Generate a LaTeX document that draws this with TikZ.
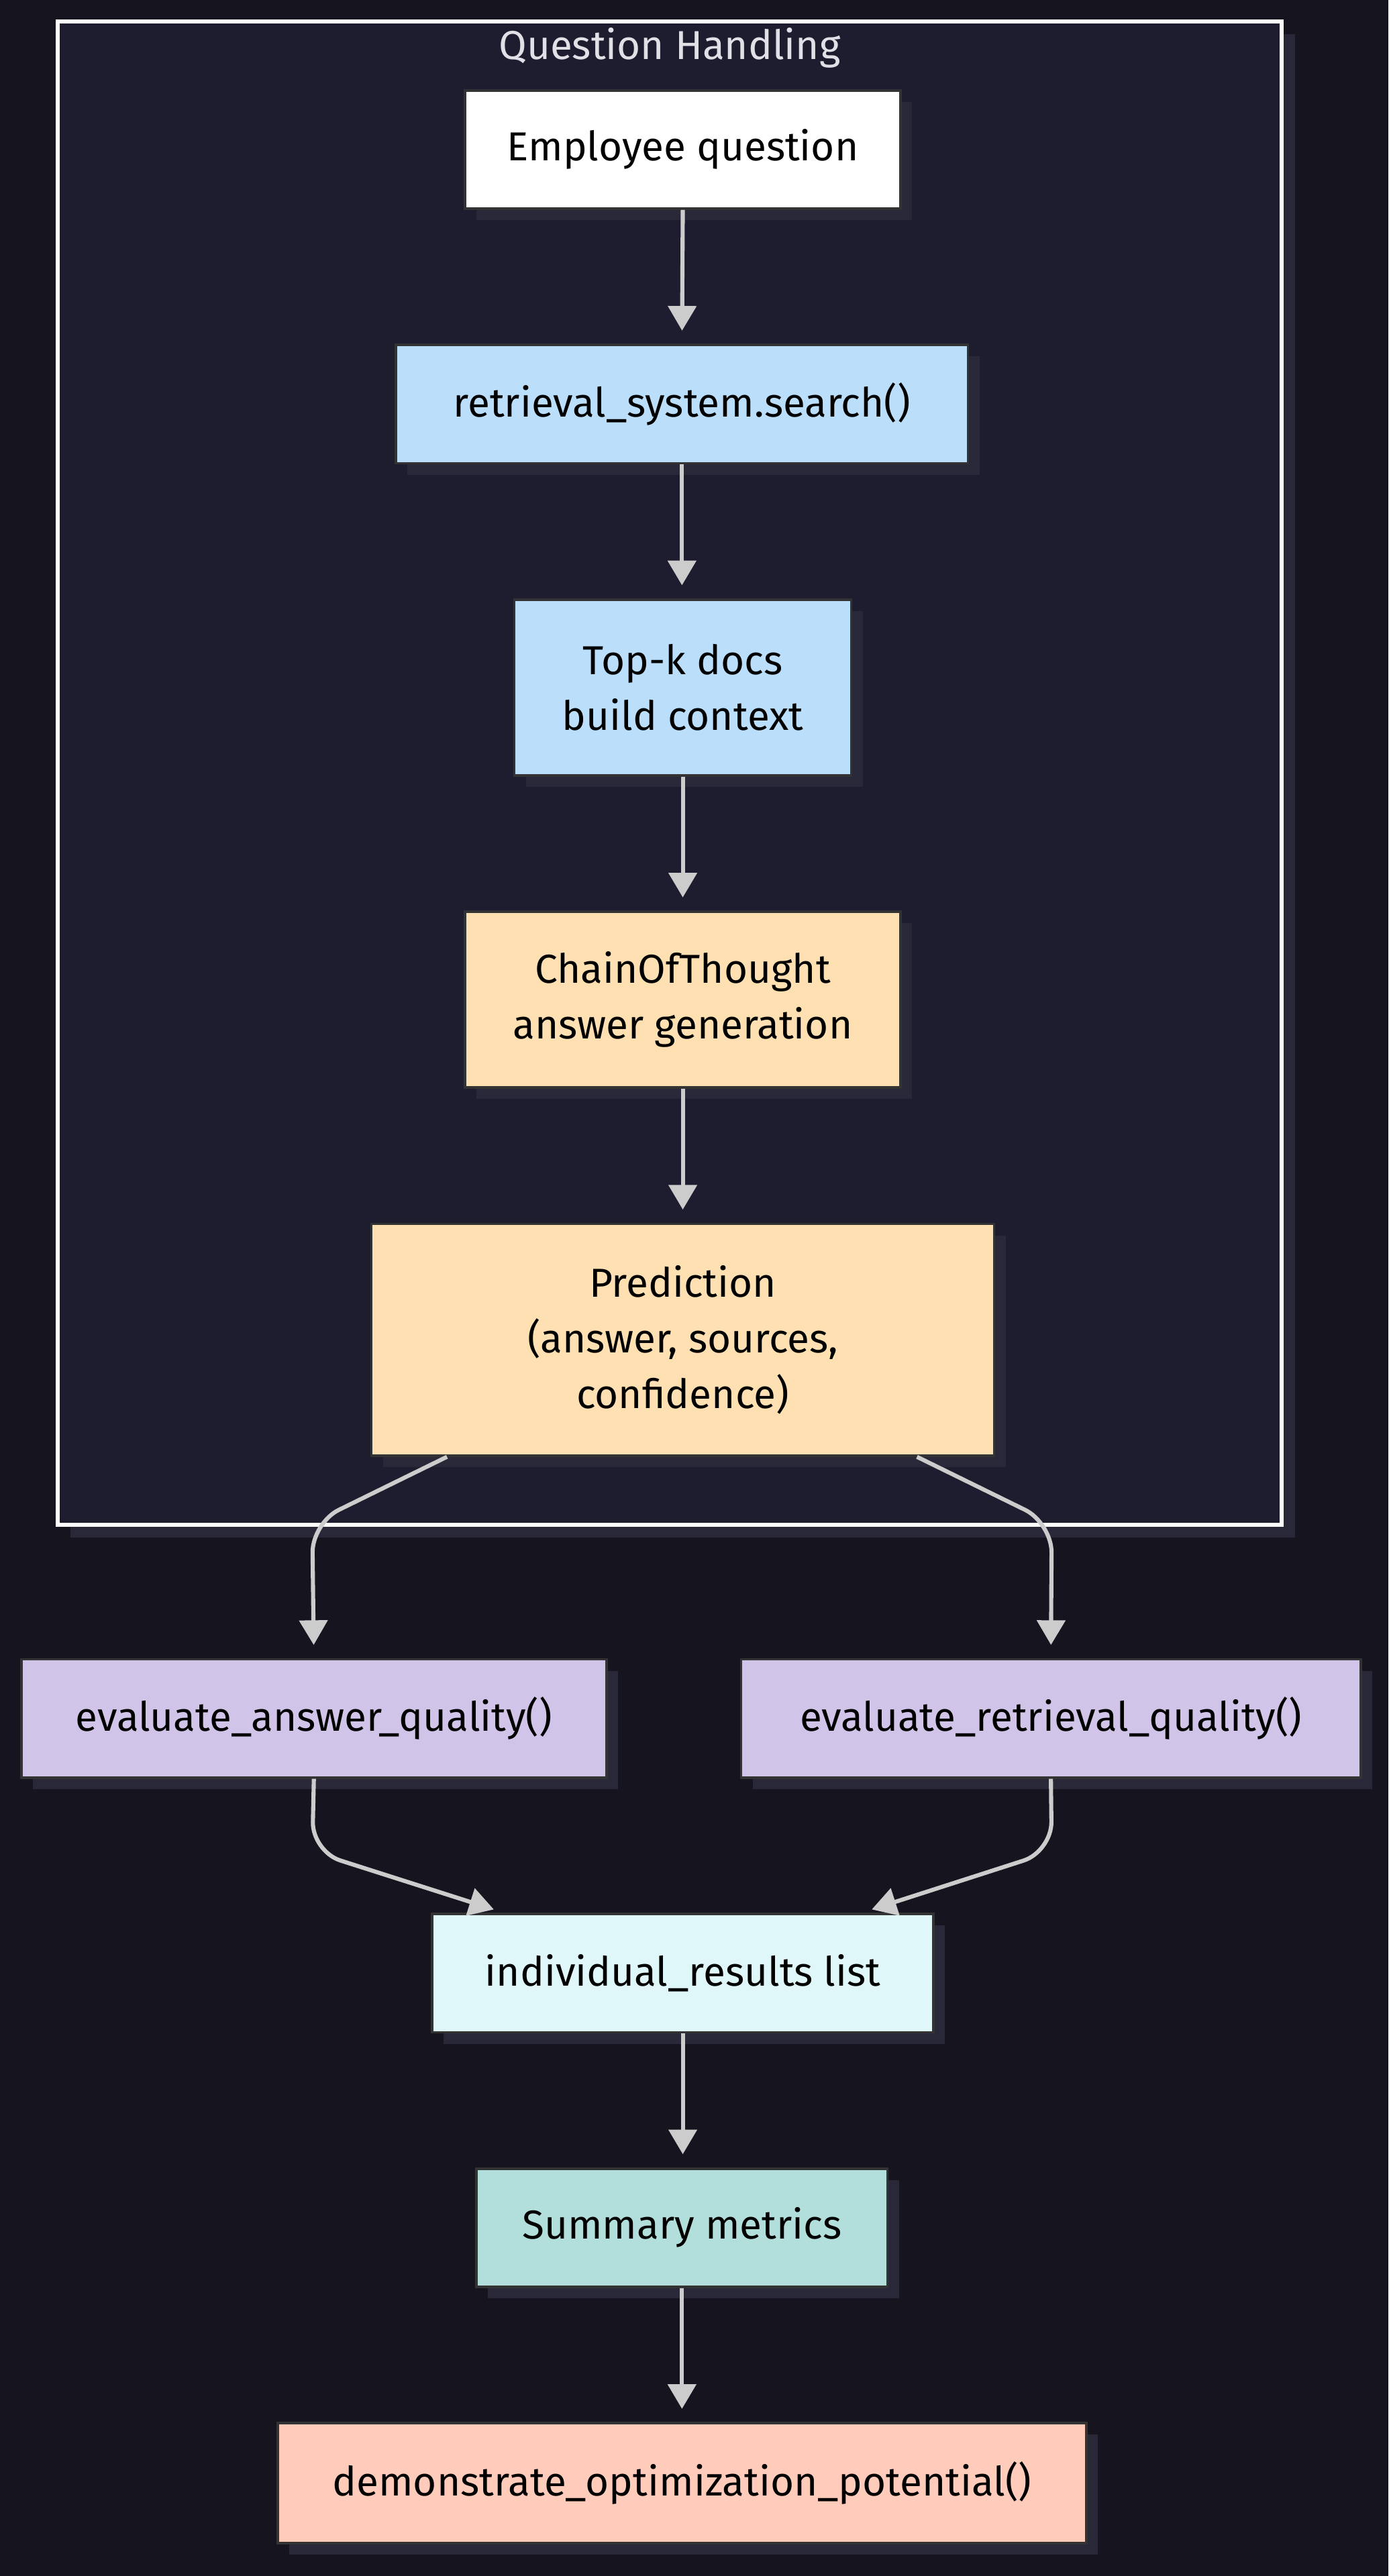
\documentclass[tikz,border=0pt]{standalone}
\usepackage{fontspec}
\setmainfont{Fira Sans}
\usetikzlibrary{arrows.meta,shadows,calc}
\definecolor{bgc}{HTML}{16151F}
\definecolor{clusterc}{HTML}{1E1D2F}
\definecolor{shadowc}{HTML}{292838}
\definecolor{edgec}{HTML}{CCCCCC}
\definecolor{borderc}{HTML}{333333}
\definecolor{titlec}{HTML}{E0E0E6}
\definecolor{bluec}{HTML}{BBDEFB}
\definecolor{orangec}{HTML}{FFE0B2}
\definecolor{purplec}{HTML}{D1C4E9}
\definecolor{cyanc}{HTML}{E0F7FA}
\definecolor{tealc}{HTML}{B2DFDB}
\definecolor{salmonc}{HTML}{FFCCBC}
\tikzset{
  box/.style={draw=borderc, line width=1.5pt, rectangle, align=center, text=black,
    font=\fontsize{24.6}{34}\selectfont, inner sep=0pt,
    general shadow={fill=shadowc, shadow xshift=7pt, shadow yshift=-7pt}},
  flow/.style={draw=edgec, line width=2.5pt, -{Triangle[length=15pt,width=17pt]}},
  curve/.style={flow, rounded corners=18pt},
}
\begin{document}
\begin{tikzpicture}[x=1pt,y=-1pt]
\fill[bgc] (0,0) rectangle (845,1568);
\useasboundingbox (0,0) rectangle (845,1568);
% cluster
\fill[shadowc] (43,21) rectangle (788,936);
\node[draw=white, line width=2.5pt, fill=clusterc, minimum width=745pt, minimum height=915pt, inner sep=0pt] (cluster) at (407.5,470.5) {};
\node[text=titlec, font=\fontsize{24.6}{28}\selectfont] (title) at (407.5,29) {Question Handling};
% nodes
\node[box, fill=white, minimum width=265pt, minimum height=72pt] (q) at (415.5,91) {Employee question};
\node[box, fill=bluec, minimum width=348pt, minimum height=72pt] (ret) at (415,246) {retrieval\_system.search()};
\node[box, fill=bluec, minimum width=205pt, minimum height=107pt] (topk) at (415.5,418.5) {Top-k docs\\build context};
\node[box, fill=orangec, minimum width=265pt, minimum height=107pt] (cot) at (415.5,608.5) {ChainOfThought\\answer generation};
\node[box, fill=orangec, minimum width=379pt, minimum height=141pt] (pred) at (415.5,815.5) {Prediction\\(answer, sources,\\confidence)};
\node[box, fill=purplec, minimum width=356pt, minimum height=72pt] (eaq) at (191,1046) {evaluate\_answer\_quality()};
\node[box, fill=purplec, minimum width=377pt, minimum height=72pt] (erq) at (639.5,1046) {evaluate\_retrieval\_quality()};
\node[box, fill=cyanc, minimum width=305pt, minimum height=72pt] (ind) at (415.5,1201) {individual\_results list};
\node[box, fill=tealc, minimum width=250pt, minimum height=72pt] (sum) at (415,1356) {Summary metrics};
\node[box, fill=salmonc, minimum width=492pt, minimum height=73pt] (demo) at (415,1511.5) {demonstrate\_optimization\_potential()};
% edges
\draw[flow, shorten >=8pt] (q.south) -- (ret.north);
\draw[flow, shorten >=8pt] (ret.south) -- (ret.south |- topk.north);
\draw[flow, shorten >=8pt] (topk.south) -- (topk.south |- cot.north);
\draw[flow, shorten >=8pt] (cot.south) -- (cot.south |- pred.north);
\draw[flow, shorten >=8pt] (ind.south) -- (ind.south |- sum.north);
\draw[flow, shorten >=8pt] (sum.south) -- (sum.south |- demo.north);
\coordinate (pl) at ($(pred.south)+(-143.5,0)$);
\coordinate (pr) at ($(pred.south)+(142.5,0)$);
\coordinate (il) at ($(ind.north)+(-115,-2)$);
\coordinate (ir) at ($(ind.north)+(115,-2)$);
\draw[curve, shorten >=8pt] (pl) -- (190,927) -- (eaq.north);
\draw[curve, shorten >=8pt] (pr) -- (640,927) -- (erq.north);
\draw[curve] (eaq.south) -- (190,1127) -- (il);
\draw[curve] (erq.south) -- (640,1127) -- (ir);
\end{tikzpicture}
\end{document}
